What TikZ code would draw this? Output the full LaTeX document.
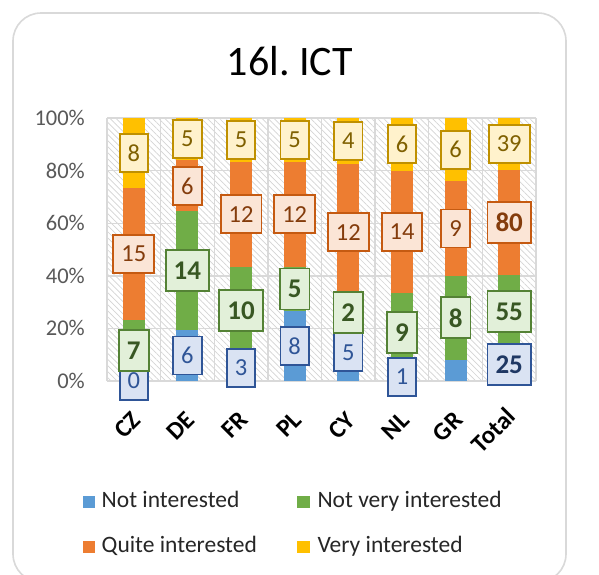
\documentclass[tikz,border=0pt]{standalone}
\usepackage{fontspec}
\setmainfont{Carlito}
\usetikzlibrary{patterns.meta}
\definecolor{cblue}{HTML}{5B9BD5}
\definecolor{cgreen}{HTML}{70AD47}
\definecolor{corange}{HTML}{ED7D31}
\definecolor{cyellow}{HTML}{FFC000}
\definecolor{gridc}{HTML}{D9D9D9}
\definecolor{hatchc}{HTML}{D4D4D4}
\definecolor{axc}{HTML}{595959}
\tikzset{
  frame/.style={draw=gridc, line width=1.6pt, rounded corners=28pt},
  gridline/.style={draw=gridc, line width=1.4pt},
  lbl/.style={line width=1.9pt, inner xsep=8pt, inner ysep=0pt, minimum height=38pt, font=\fontsize{24.5}{28}\selectfont},
  lblb/.style={lbl, minimum height=41pt, font=\fontsize{27}{30}\selectfont\bfseries},
  lblue/.style={lbl, fill={rgb,255:red,218;green,227;blue,243}, draw={rgb,255:red,47;green,85;blue,151}, text={rgb,255:red,47;green,85;blue,151}},
  lblueb/.style={lblb, fill={rgb,255:red,218;green,227;blue,243}, draw={rgb,255:red,47;green,85;blue,151}, text={rgb,255:red,31;green,56;blue,100}},
  lgreen/.style={lblb, fill={rgb,255:red,226;green,240;blue,217}, draw={rgb,255:red,84;green,130;blue,53}, text={rgb,255:red,56;green,87;blue,35}},
  lorange/.style={lbl, fill={rgb,255:red,251;green,229;blue,214}, draw={rgb,255:red,197;green,90;blue,17}, text={rgb,255:red,132;green,60;blue,12}},
  loranageb/.style={lblb, fill={rgb,255:red,251;green,229;blue,214}, draw={rgb,255:red,197;green,90;blue,17}, text={rgb,255:red,132;green,60;blue,12}},
  lyellow/.style={lbl, fill={rgb,255:red,255;green,242;blue,204}, draw={rgb,255:red,191;green,144;blue,0}, text={rgb,255:red,127;green,96;blue,0}},
  axlbl/.style={anchor=east, inner sep=0pt, text=axc, font=\fontsize{22.5}{26}\selectfont},
  catlbl/.style={anchor=east, rotate=45, inner sep=0pt, font=\fontsize{25}{28}\selectfont\bfseries},
  leglbl/.style={anchor=base west, inner sep=0pt, text=black!85, font=\fontsize{23.5}{27}\selectfont},
  titlelbl/.style={anchor=base, inner sep=0pt, font=\fontsize{42}{48}\selectfont}
}
\begin{document}
\begin{tikzpicture}[x=1pt,y=-1pt]
\useasboundingbox (0,0) rectangle (599,574);
\clip (0,0) rectangle (599,574);
\fill[white] (0,0) rectangle (599,574);
% frame
\draw[frame] (13,13) rectangle (566,582);
% title
\node[titlelbl] (title) at (290,75) {16l.\hspace{-3pt} ICT};
% plot background hatch
\fill[pattern={Lines[angle=-45,distance=4.3pt,line width=0.7pt]}, pattern color=hatchc] (107,118) rectangle (536,381);
% grid
\foreach \k in {0,1,...,5} {
  \draw[gridline] (107,{381-52.6*\k}) -- (536,{381-52.6*\k});
}
\foreach \k in {0,1,...,8} {
  \draw[gridline] ({107+53.625*\k},118) -- ({107+53.625*\k},381);
}
% y labels
\node[axlbl] (y0) at (85,381) {0\%};
\node[axlbl] (y20) at (85,328.4) {20\%};
\node[axlbl] (y40) at (85,275.8) {40\%};
\node[axlbl] (y60) at (85,223.2) {60\%};
\node[axlbl] (y80) at (85,170.6) {80\%};
\node[axlbl] (y100) at (85,118) {100\%};
% bars
\foreach \i/\va/\vb/\vc/\vd in {0/0/7/15/8, 1/6/14/6/5, 2/3/10/12/5, 3/8/5/12/5, 4/5/2/12/4, 5/1/9/14/6, 6/2/8/9/6, 7/25/55/80/39} {
  \pgfmathsetmacro\cx{107+53.625*(\i+0.5)}
  \pgfmathsetmacro\tot{\va+\vb+\vc+\vd}
  \pgfmathsetmacro\sc{263/\tot}
  \pgfmathsetmacro\ya{381-\sc*\va}
  \pgfmathsetmacro\yb{381-\sc*(\va+\vb)}
  \pgfmathsetmacro\yc{381-\sc*(\va+\vb+\vc)}
  \fill[cblue] (\cx-11,381) rectangle (\cx+11,\ya);
  \fill[cgreen] (\cx-11,\ya) rectangle (\cx+11,\yb);
  \fill[corange] (\cx-11,\yb) rectangle (\cx+11,\yc);
  \fill[cyellow] (\cx-11,\yc) rectangle (\cx+11,118);
}
% labels CZ
\node[lblue] (czA) at (133.8,381) {0};
\node[lgreen] (czB) at (133.8,350.3) {7};
\node[lorange] (czC) at (133.8,253.9) {15};
\node[lyellow] (czD) at (133.8,153.1) {8};
% DE
\node[lblue] (deA) at (187.4,355.5) {6};
\node[lgreen] (deB) at (187.4,270.7) {14};
\node[lorange] (deC) at (187.4,185.9) {6};
\node[lyellow] (deD) at (187.4,139.2) {5};
% FR
\node[lblue] (frA) at (241.1,367.9) {3};
\node[lgreen] (frB) at (241.1,310.9) {10};
\node[lorange] (frC) at (241.1,214.4) {12};
\node[lyellow] (frD) at (241.1,139.9) {5};
% PL
\node[lblue] (plA) at (294.7,345.9) {8};
\node[lgreen] (plB) at (294.7,289.0) {5};
\node[lorange] (plC) at (294.7,214.4) {12};
\node[lyellow] (plD) at (294.7,139.9) {5};
% CY
\node[lblue] (cyA) at (348.3,352.4) {5};
\node[lgreen] (cyB) at (348.3,312.4) {2};
\node[lorange] (cyC) at (348.3,232.3) {12};
\node[lyellow] (cyD) at (348.3,140.9) {4};
% NL
\node[lblue] (nlA) at (402.0,376.6) {1};
\node[lgreen] (nlB) at (402.0,332.8) {9};
\node[lorange] (nlC) at (402.0,232.0) {14};
\node[lyellow] (nlD) at (402.0,144.3) {6};
% GR
\node[lgreen] (grB) at (455.6,317.9) {8};
\node[lorange] (grC) at (455.6,228.5) {9};
\node[lyellow] (grD) at (455.6,149.6) {6};
% Total
\node[lblueb] (toA) at (509.2,364.5) {25};
\node[lgreen] (toB) at (509.2,311.6) {55};
\node[loranageb] (toC) at (509.2,222.4) {80};
\node[lyellow] (toD) at (509.2,143.8) {39};
% category labels
\node[catlbl] (xCZ) at (136.8,416) {CZ};
\node[catlbl] (xDE) at (190.4,416) {DE};
\node[catlbl] (xFR) at (244.1,416) {FR};
\node[catlbl] (xPL) at (297.7,416) {PL};
\node[catlbl] (xCY) at (351.3,416) {CY};
\node[catlbl] (xNL) at (405.0,416) {NL};
\node[catlbl] (xGR) at (458.6,416) {GR};
\node[catlbl] (xTo) at (511.2,412) {Total};
% legend
\fill[cblue] (82.7,496) rectangle (95,508.3);
\node[leglbl] (legA) at (101.5,507.5) {Not interested};
\fill[cgreen] (297.3,496) rectangle (309.6,508.3);
\node[leglbl] (legB) at (317.3,507.5) {Not very interested};
\fill[corange] (82.7,540.5) rectangle (95,552.8);
\node[leglbl] (legC) at (101.5,552.7) {Quite interested};
\fill[cyellow] (297.3,540.5) rectangle (309.6,552.8);
\node[leglbl] (legD) at (317.3,552.7) {Very interested};
\end{tikzpicture}
\end{document}
